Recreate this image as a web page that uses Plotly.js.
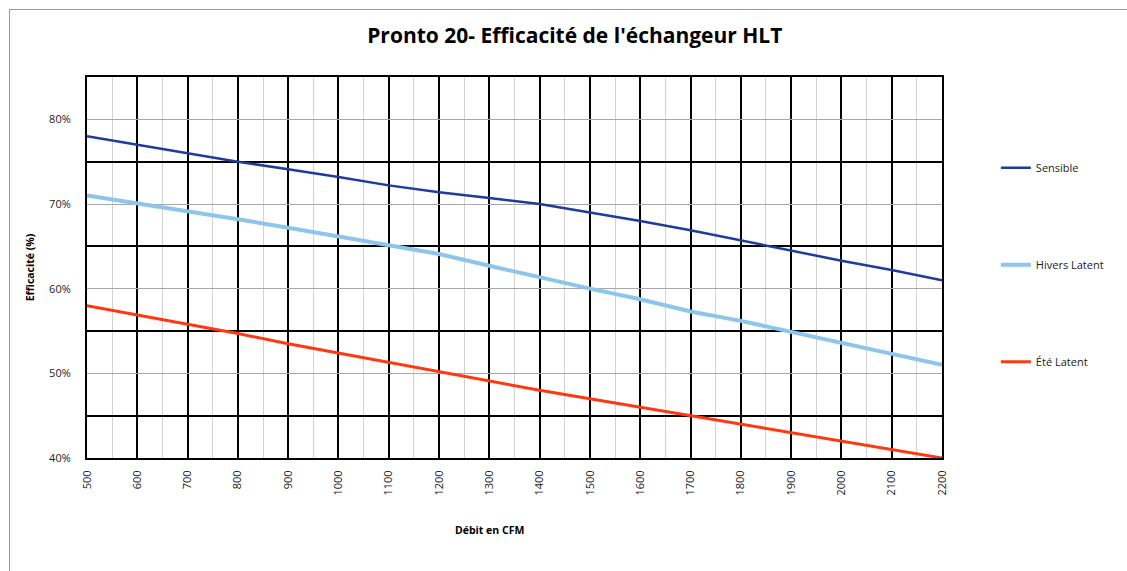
<!DOCTYPE html>
<html>
<head>
<meta charset="utf-8">
<script src="https://cdn.plot.ly/plotly-3.0.1.min.js"></script>
<style>
  html, body { margin: 0; padding: 0; background: #fff; }
  #wrap { position: relative; width: 1127px; height: 571px; }
  #chart { position: absolute; left: 0; top: 0; width: 1127px; height: 571px; }
  #frame { position: absolute; left: 9px; top: 9px; width: 1130px; height: 600px;
           border-left: 1px solid #9a9a9a; border-top: 1px solid #9a9a9a; pointer-events: none; }
</style>
</head>
<body>
<div id="wrap">
  <div id="chart"></div>
  <div id="frame"></div>
</div>
<script>
const debitCFM = [500, 600, 700, 800, 900, 1000, 1100, 1200, 1300, 1400, 1500, 1600, 1700, 1800, 1900, 2000, 2100, 2200];
const sensible = [78.0, 77.0, 76.0, 75.0, 74.1, 73.2, 72.2, 71.4, 70.7, 70.0, 69.0, 68.0, 66.9, 65.7, 64.5, 63.3, 62.2, 61.0];
const hiversLatent = [71.0, 70.1, 69.1, 68.2, 67.2, 66.2, 65.2, 64.1, 62.7, 61.3, 60.0, 58.75, 57.3, 56.2, 54.9, 53.5, 52.3, 51.0];
const eteLatent = [58.0, 56.9, 55.8, 54.7, 53.5, 52.4, 51.3, 50.2, 49.1, 48.0, 47.0, 46.0, 45.0, 44.0, 43.0, 42.0, 41.0, 40.0];
const seriesNames = ["Sensible", "Hivers Latent", "Été Latent"];
const xTickVals = [500, 600, 700, 800, 900, 1000, 1100, 1200, 1300, 1400, 1500, 1600, 1700, 1800, 1900, 2000, 2100, 2200];
const chartTitle = "Pronto 20- Efficacité de l'échangeur HLT";
const xTitle = "Débit en CFM";
const yTitle = "Efficacité (%)";

const traces = [
  { x: debitCFM, y: sensible, name: seriesNames[0], legendgroup: 'a', mode: 'lines',
    line: { color: '#1f3b9b', width: 2.5 } },
  { x: debitCFM, y: hiversLatent, name: seriesNames[1], legendgroup: 'b', mode: 'lines',
    line: { color: '#8ec5ea', width: 4 } },
  { x: debitCFM, y: eteLatent, name: seriesNames[2], legendgroup: 'c', mode: 'lines',
    line: { color: '#ff3810', width: 3 } }
];

const layout = {
  width: 1127, height: 571,
  margin: { l: 87, r: 185, t: 77, b: 113 },
  paper_bgcolor: 'rgba(0,0,0,0)', plot_bgcolor: '#fff',
  title: { text: chartTitle,
           font: { family: '"Open Sans", sans-serif', size: 21, color: '#000', weight: 'bold' },
           x: 0.51, xanchor: 'center', y: 0.937, yanchor: 'middle' },
  xaxis: {
    range: [500, 2200], tickvals: xTickVals, ticktext: xTickVals.map(String),
    tickangle: -90, ticks: '', ticklabelstandoff: 6,
    tickfont: { family: '"Open Sans", sans-serif', size: 11, color: '#222' },
    showgrid: true, gridcolor: '#000', gridwidth: 2,
    minor: { dtick: 50, tick0: 500, showgrid: true, gridcolor: '#d2d2d2', gridwidth: 1 },
    showline: true, linecolor: '#000', linewidth: 2, mirror: true, zeroline: false
  },
  yaxis: {
    range: [40, 85], tick0: 40, dtick: 10, ticksuffix: '%', ticks: '', ticklabelstandoff: 12,
    tickfont: { family: '"Open Sans", sans-serif', size: 11, color: '#222' },
    showgrid: true, gridcolor: '#a8a8a8', gridwidth: 1,
    minor: { dtick: 5, tick0: 40, showgrid: true, gridcolor: '#000', gridwidth: 2 },
    showline: true, linecolor: '#000', linewidth: 2, mirror: true, zeroline: false,
    title: { text: yTitle, standoff: 12,
             font: { family: '"Open Sans", sans-serif', size: 10.5, color: '#000', weight: 'bold' } }
  },
  annotations: [
    { text: xTitle, xref: 'paper', yref: 'paper',
      x: (489 - 87) / 855, y: -(530 - 458) / 381, xanchor: 'center', yanchor: 'middle',
      showarrow: false,
      font: { family: '"Open Sans", sans-serif', size: 10.5, color: '#000', weight: 'bold' } }
  ],
  showlegend: true,
  legend: {
    x: 1.063, xanchor: 'left', y: 0.80, yanchor: 'top',
    traceorder: 'grouped', tracegroupgap: 78,
    font: { family: '"Open Sans", sans-serif', size: 11, color: '#222' },
    bgcolor: 'rgba(0,0,0,0)', itemwidth: 30
  }
};

Plotly.newPlot('chart', traces, layout, { displayModeBar: false, staticPlot: true });
</script>
</body>
</html>
